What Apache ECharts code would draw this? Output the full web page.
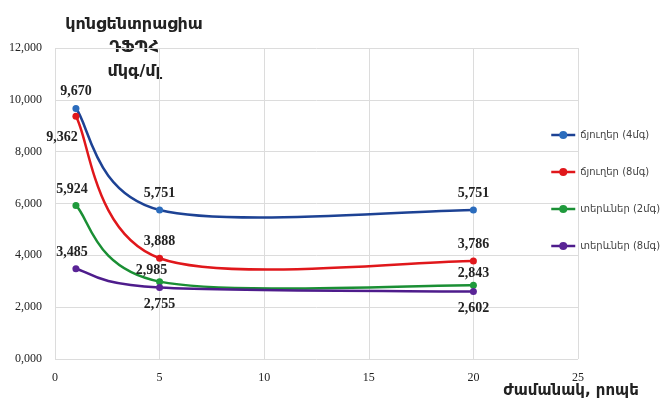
<!DOCTYPE html>
<html>
<head>
<meta charset="utf-8">
<script src="https://cdn.jsdelivr.net/npm/echarts@6/dist/echarts.min.js"></script>
<style>
  html, body { margin: 0; padding: 0; background: #fff; }
  #chart { width: 667px; height: 406px; }
</style>
</head>
<body>
<div id="chart"></div>
<script>
// time, minutes
const times = [1, 5, 20]
const seriesNames = ['ճյուղեր (4մգ)', 'ճյուղեր (8մգ)', 'տերևներ (2մգ)', 'տերևներ (8մգ)']
const branches4 = [9.670, 5.751, 5.751]
const branches8 = [9.362, 3.888, 3.786]
const leaves2 = [5.924, 2.985, 2.843]
const leaves8 = [3.485, 2.755, 2.602]
const xTicks = [0, 5, 10, 15, 20, 25]
const yTicks = [0, 2, 4, 6, 8, 10, 12]

const lineColors = ['#1d4294', '#e0171b', '#1a8f34', '#4e1c8c']
const markerColors = ['#2b6cbd', '#e0171b', '#1f9a3c', '#5a2496']
// label placement per point: [position, offset]
const labelPlace = [
  [['top', [0, 0]], ['top', [0, 0]], ['top', [0, 0]]],
  [['bottom', [-14, 5]], ['top', [0, 0]], ['top', [0, 0]]],
  [['top', [-4, 0]], ['top', [-8, 5]], ['top', [0, 5]]],
  [['top', [-4, 0]], ['bottom', [0, 0]], ['bottom', [0, 0]]]
]

const fmt = v => v.toFixed(3).replace('.', ',')
const allValues = [branches4, branches8, leaves2, leaves8]

// Excel-like smoothed line: cubic bezier pieces through the points, in pixel space
const smoothCurve = (vals, color) => (params, api) => {
  if (params.dataIndex !== 0) return null
  const p = times.map((t, j) => api.coord([t, vals[j]]))
  const n = p.length
  const children = []
  for (let i = 0; i < n - 1; i++) {
    const p0 = p[Math.max(i - 1, 0)]
    const p1 = p[i]
    const p2 = p[i + 1]
    const p3 = p[Math.min(i + 2, n - 1)]
    children.push({
      type: 'bezierCurve',
      shape: {
        x1: p1[0], y1: p1[1],
        x2: p2[0], y2: p2[1],
        cpx1: p1[0] + (p2[0] - p0[0]) / 6,
        cpy1: p1[1] + (p2[1] - p0[1]) / 6,
        cpx2: p2[0] - (p3[0] - p1[0]) / 6,
        cpy2: p2[1] - (p3[1] - p1[1]) / 6
      },
      style: { stroke: color, lineWidth: 2.5, fill: null }
    })
  }
  return { type: 'group', children }
}

const chart = echarts.init(document.getElementById('chart'))

const curveSeries = allValues.map((vals, i) => ({
  type: 'custom',
  coordinateSystem: 'cartesian2d',
  silent: true,
  z: 1,
  encode: { x: 0, y: 1 },
  renderItem: smoothCurve(vals, lineColors[i]),
  data: vals.map((v, j) => [times[j], v])
}))

const pointSeries = allValues.map((vals, i) => ({
  name: seriesNames[i],
  type: 'line',
  z: 3,
  symbol: 'circle',
  symbolSize: 7,
  lineStyle: { color: lineColors[i], width: 2.5, opacity: 0 },
  itemStyle: { color: markerColors[i] },
  data: vals.map((v, j) => ({
    value: [times[j], v],
    label: {
      show: true,
      position: labelPlace[i][j][0],
      offset: labelPlace[i][j][1],
      distance: 6,
      formatter: () => fmt(v),
      fontFamily: 'Liberation Serif',
      fontSize: 14,
      fontWeight: 'bold',
      color: '#222'
    }
  }))
}))

chart.setOption({
  animation: false,
  grid: { left: 55, right: 89, top: 48, bottom: 47 },
  legend: {
    orient: 'vertical',
    left: 545,
    top: 125,
    itemGap: 27,
    itemWidth: 24,
    itemHeight: 10,
    lineStyle: { opacity: 1, width: 2.5 },
    textStyle: { fontFamily: 'DejaVu Sans', fontSize: 10, color: '#444' },
    data: seriesNames.map((name, i) => ({ name, lineStyle: { opacity: 1, color: lineColors[i] } }))
  },
  xAxis: {
    type: 'value',
    min: xTicks[0],
    max: xTicks[xTicks.length - 1],
    interval: 5,
    axisLine: { show: false },
    axisTick: { show: false },
    splitLine: { lineStyle: { color: '#dcdcdc' } },
    axisLabel: { margin: 13, fontFamily: 'Liberation Serif', fontSize: 12, color: '#222' }
  },
  yAxis: {
    type: 'value',
    min: yTicks[0],
    max: yTicks[yTicks.length - 1],
    interval: 2,
    axisLine: { show: false },
    axisTick: { show: false },
    splitLine: { lineStyle: { color: '#dcdcdc' } },
    axisLabel: {
      margin: 13,
      fontFamily: 'Liberation Serif',
      fontSize: 12,
      color: '#222',
      formatter: v => fmt(v)
    }
  },
  graphic: [
    {
      type: 'text', x: 134, y: 13,
      style: {
        text: 'կոնցենտրացիա\nԴՖՊՀ\nմկգ/մլ',
        textAlign: 'center',
        lineHeight: 23.5,
        font: 'bold 16px "DejaVu Sans"',
        fill: '#222'
      }
    },
    {
      type: 'text', x: 571, y: 384,
      style: {
        text: 'ժամանակ, րոպե',
        textAlign: 'center',
        font: 'bold 15px "DejaVu Sans"',
        fill: '#222'
      }
    }
  ],
  series: curveSeries.concat(pointSeries)
})
</script>
</body>
</html>
